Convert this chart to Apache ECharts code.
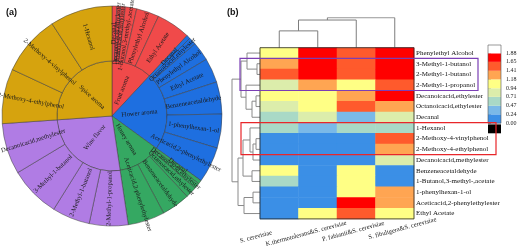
<!DOCTYPE html>
<html>
<head>
<meta charset="utf-8">
<script src="https://cdn.jsdelivr.net/npm/echarts@6/dist/echarts.min.js"></script>
<style>
html, body { margin: 0; padding: 0; background: #fff; }
#main { width: 520px; height: 247px; }
</style>
</head>
<body>
<div id="main"></div>
<script>
// (a) aroma wheel
var aromaGroups = ['Fruit aroma', 'Flower aroma', 'Honey aroma', 'Wine flavor', 'Spice aroma'];
var aromaColors = ['#f04a4a', '#1e6fe0', '#35a862', '#b07ce4', '#d6a30e'];

var fruitNames = ['Decanal', 'Decanoicacid,ethylester', 'Octanoicacid,ethylester', '1-Butanol,3-methyl-,acetate', 'Phenylethyl Alcohol', 'Ethyl Acetate'];
var fruitValues = [2.5, 2, 2.5, 6, 12, 18];

var flowerNames = ['Decanal', 'Octanoicacid,ethylester', 'Phenylethyl Alcohol', 'Ethyl Acetate', 'Benzeneacetaldehyde', '1-phenylhexan-1-ol', 'Aceticacid,2-phenylethylester'];
var flowerValues = [2, 4, 10, 13, 17, 18, 19];

var honeyNames = ['Decanal', 'Decanoicacid,ethylester', 'Octanoicacid,ethylester', 'Benzeneacetaldehyde', 'Aceticacid,2-phenylethylester'];
var honeyValues = [2, 3, 6, 15, 19.5];

var wineNames = ['2-Methyl-1-propanol', '2-Methyl-1-butanol', '3-Methyl-1-butanol', 'Decanoicacid,methylester'];
var wineValues = [20.5, 20, 27, 27];

var spiceNames = ['2-Methoxy-4-ethylphenol', '2-Methoxy-4-vinylphenol', '1-Hexanol'];
var spiceValues = [29, 32, 33];

// (b) heatmap
var strains = ['S. cerevisiae', 'K.thermotolerans&S. cerevisiae', 'P. fabianii&S. cerevisiae', 'S. fibuligera&S. cerevisiae'];
var compounds = ['Phenylethyl Alcohol', '3-Methyl-1-butanol', '2-Methyl-1-butanol', '2-Methyl-1-propanol',
    'Decanoicacid,ethylester', 'Octanoicacid,ethylester', 'Decanal', '1-Hexanol',
    '2-Methoxy-4-vinylphenol', '2-Methoxy-4-ethylphenol', 'Decanoicacid,methylester', 'Benzeneacetaldehyde',
    '1-Butanol,3-methyl-,acetate', '1-phenylhexan-1-ol', 'Aceticacid,2-phenylethylester', 'Ethyl Acetate'];
var levels = [
    [1.05, 1.78, 1.55, 1.80],
    [1.30, 1.80, 1.52, 1.82],
    [1.50, 1.82, 1.50, 1.80],
    [0.85, 1.30, 1.05, 1.55],
    [1.05, 1.00, 1.30, 1.76],
    [0.85, 1.00, 1.50, 1.30],
    [0.62, 0.82, 0.35, 0.80],
    [0.60, 0.40, 0.60, 0.62],
    [0.10, 0.10, 0.10, 1.55],
    [0.10, 0.10, 0.10, 1.30],
    [0.10, 0.10, 0.10, 0.85],
    [1.00, 0.10, 1.05, 0.10],
    [0.60, 0.10, 1.05, 0.10],
    [0.10, 0.10, 1.05, 1.30],
    [0.10, 0.10, 1.80, 1.30],
    [0.10, 1.05, 1.50, 1.05]
];
var colorTicks = [0, 0.24, 0.47, 0.71, 0.94, 1.18, 1.41, 1.65, 1.88];
var scaleColors = ['#3b8fe6', '#7ab9e8', '#a9d9c6', '#dcedab', '#ffff85', '#ffa552', '#ff5a2c', '#ff0000'];

// linkage rows: [a, b, height]; new clusters numbered from n upward
var colLinkage = [[0, 1, 16.6], [4, 2, 27.3], [5, 3, 29.6]];
var rowLinkage = [
    [1, 2, 3], [0, 16, 13], [4, 5, 4], [18, 6, 8], [3, 19, 14], [17, 20, 19],
    [8, 9, 4], [22, 10, 7], [7, 23, 10], [11, 12, 8], [24, 25, 17],
    [13, 14, 7], [27, 15, 16], [26, 28, 22], [21, 29, 28]
];

var serif = 'Liberation Serif';
var HM = {left: 260, top: 47.7, width: 154, height: 171.2};
var rowH = HM.height / compounds.length;
// the strain labels sit a little off their columns in the figure
var labelPads = [[0, 50, 0, 0], [0, 26, 0, 0], [0, 8, 0, 0], [0, 0, 0, 14]];

function groupData(names, values, color) {
    return names.map(function (n, i) {
        return {name: n, value: values[i], itemStyle: {color: color}};
    });
}
var wheel = [
    [fruitNames, fruitValues], [flowerNames, flowerValues], [honeyNames, honeyValues],
    [wineNames, wineValues], [spiceNames, spiceValues]
].map(function (g, i) {
    return {name: aromaGroups[i], itemStyle: {color: aromaColors[i]},
        children: groupData(g[0], g[1], aromaColors[i])};
});

// dendrogram segments from linkage
function dendroLines(linkage, n, horizontal) {
    var pos = [], hgt = [], out = [];
    for (var i = 0; i < n; i++) { pos.push(i + 0.5); hgt.push(0); }
    linkage.forEach(function (m) {
        var a = m[0], b = m[1], h = m[2];
        var pts = [[hgt[a], pos[a]], [h, pos[a]], [h, pos[b]], [hgt[b], pos[b]]];
        if (!horizontal) pts = pts.map(function (p) { return [p[1], p[0]]; });
        out.push({coords: pts});
        pos.push((pos[a] + pos[b]) / 2);
        hgt.push(h);
    });
    return out;
}

var heatData = [];
levels.forEach(function (row, r) {
    row.forEach(function (v, c) { heatData.push([c, r, v]); });
});

var pieces = [];
for (var i = 0; i < scaleColors.length; i++) {
    pieces.push({gte: colorTicks[i], lt: colorTicks[i + 1], color: scaleColors[i]});
}
pieces[pieces.length - 1].lte = colorTicks[colorTicks.length - 1];
delete pieces[pieces.length - 1].lt;

var barBlocks = [[-0.269, -0.03, '#000000']];
for (var j = 0; j < scaleColors.length; j++) barBlocks.push([colorTicks[j], colorTicks[j + 1], scaleColors[j]]);
barBlocks.push([1.88, 2.103, '#ffffff']);

function fixedGrid(g) { g.outerBoundsMode = 'none'; g.containLabel = false; return g; }

var option = {
    animation: false,
    backgroundColor: '#fff',
    grid: [
        {left: HM.left, top: HM.top, width: HM.width, height: HM.height},
        {left: 488, top: 45, width: 13, height: 88.3},
        {left: HM.left, top: 17.7, width: HM.width, height: 30},
        {left: 232, top: HM.top, width: 28, height: HM.height}
    ].map(fixedGrid),
    xAxis: [
        {type: 'category', gridIndex: 0, position: 'bottom',
            data: strains.map(function (s, i) {
                return {value: s, textStyle: {padding: labelPads[i], align: 'center', verticalAlign: 'top'}};
            }),
            axisLine: {show: false}, axisTick: {show: false},
            axisLabel: {rotate: 15, align: 'center', verticalAlign: 'top', margin: 8, fontFamily: serif, fontSize: 6.5, color: '#222'}},
        {type: 'value', gridIndex: 1, min: 0, max: 1, show: false},
        {type: 'value', gridIndex: 2, min: 0, max: strains.length, show: false},
        {type: 'value', gridIndex: 3, min: 0, max: 28, inverse: true, show: false}
    ],
    yAxis: [
        {type: 'category', gridIndex: 0, data: compounds, inverse: true, position: 'right',
            axisLine: {show: false}, axisTick: {show: false},
            axisLabel: {margin: 2, fontFamily: serif, fontSize: 7, color: '#111'}},
        {type: 'value', gridIndex: 1, min: -0.269, max: 2.103, position: 'right',
            axisLine: {show: false}, splitLine: {show: false},
            axisTick: {show: true, length: 3, lineStyle: {color: '#555', width: 0.6}, customValues: colorTicks},
            axisLabel: {customValues: colorTicks, margin: 5, fontFamily: serif, fontSize: 6, color: '#222',
                formatter: function (v) { return v.toFixed(2); }}},
        {type: 'value', gridIndex: 2, min: 0, max: 29.6, show: false},
        {type: 'value', gridIndex: 3, min: 0, max: compounds.length, inverse: true, show: false}
    ],
    visualMap: {type: 'piecewise', show: false, seriesIndex: 0, pieces: pieces},
    graphic: [
        {type: 'text', left: 6, top: 8, style: {text: '(a)', font: 'bold 9px "Liberation Sans"', fill: '#111'}},
        {type: 'text', left: 227, top: 8, style: {text: '(b)', font: 'bold 9px "Liberation Sans"', fill: '#111'}},
        {type: 'rect', z: 100, shape: {x: HM.left, y: HM.top, width: HM.width, height: HM.height},
            style: {fill: 'none', stroke: '#222', lineWidth: 0.8}},
        {type: 'rect', z: 100, shape: {x: 488, y: 45, width: 13, height: 78.2},
            style: {fill: 'none', stroke: '#555', lineWidth: 0.6}},
        {type: 'rect', z: 101, shape: {x: 240, y: HM.top + rowH * 1, width: 238, height: rowH * 3},
            style: {fill: 'none', stroke: '#7b3fb5', lineWidth: 1.2}},
        {type: 'rect', z: 101, shape: {x: 241, y: HM.top + rowH * 7, width: 255, height: rowH * 3},
            style: {fill: 'none', stroke: '#e8262a', lineWidth: 1.2}}
    ],
    series: [
        {type: 'heatmap', xAxisIndex: 0, yAxisIndex: 0, data: heatData, silent: true},
        {type: 'custom', xAxisIndex: 1, yAxisIndex: 1, data: barBlocks, silent: true,
            renderItem: function (params, api) {
                var b = barBlocks[params.dataIndex];
                var p1 = api.coord([0, b[1]]);
                var p2 = api.coord([1, b[0]]);
                return {type: 'rect', shape: {x: p1[0], y: p1[1], width: p2[0] - p1[0], height: p2[1] - p1[1]},
                    style: {fill: b[2]}};
            }},
        {type: 'lines', coordinateSystem: 'cartesian2d', xAxisIndex: 2, yAxisIndex: 2, polyline: true, silent: true,
            data: dendroLines(colLinkage, strains.length, false),
            lineStyle: {color: '#7d7d7d', width: 1, opacity: 1}},
        {type: 'lines', coordinateSystem: 'cartesian2d', xAxisIndex: 3, yAxisIndex: 3, polyline: true, silent: true,
            data: dendroLines(rowLinkage, compounds.length, true),
            lineStyle: {color: '#8a8a8a', width: 1, opacity: 1}},
        {type: 'sunburst', center: [112, 116], radius: [0, 110], sort: null, nodeClick: false, silent: true,
            startAngle: 90,
            itemStyle: {borderColor: '#3a3a3a', borderWidth: 0.5},
            label: {rotate: 'radial', fontFamily: serif, fontSize: 6.5, color: '#1a1a1a'},
            levels: [{}, {r0: 0, r: 55, label: {fontSize: 6.5}}, {r0: 55, r: 110}],
            data: wheel}
    ]
};

var chart = echarts.init(document.getElementById('main'));
chart.setOption(option);
</script>
</body>
</html>
